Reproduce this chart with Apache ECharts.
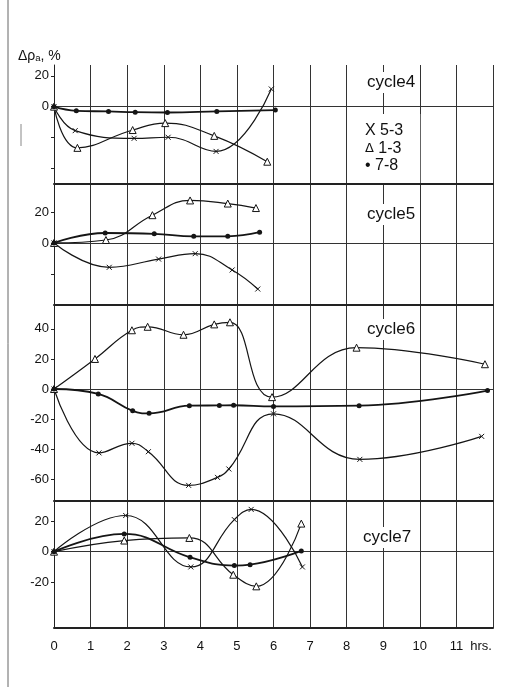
<!DOCTYPE html>
<html><head><meta charset="utf-8">
<script src="https://cdn.jsdelivr.net/npm/echarts@6/dist/echarts.min.js"></script>
<style>html,body{margin:0;padding:0;background:#fff}#c{width:509px;height:687px}</style>
</head><body><div id="c"></div>
<script>
// ---- data (hours, Δρa %) ----
const seriesNames = ['5-3', '1-3', '7-8'];
const panelNames = ['cycle4', 'cycle5', 'cycle6', 'cycle7'];
const xTickLabels = ['0','1','2','3','4','5','6','7','8','9','10','11','hrs.'];

const c4_53 = [[0,0],[0.58,-15.6],[2.19,-20.6],[3.12,-19.9],[4.43,-29.1],[5.94,11.5]];
const c4_13 = [[0,0],[0.64,-26.8],[2.15,-15.2],[3.04,-10.7],[4.38,-19.0],[5.83,-35.8]];
const c4_78 = [[0,0],[0.61,-2.7],[1.49,-3.1],[2.22,-3.6],[3.10,-3.8],[4.45,-3.1],[6.05,-2.2]];

const c5_53 = [[0,0],[1.51,-15.7],[2.86,-10.4],[3.86,-6.9],[4.87,-17.4],[5.57,-29.7]];
const c5_13 = [[0,0],[1.42,1.9],[2.69,17.9],[3.72,27.4],[4.75,25.4],[5.52,22.5]];
const c5_78 = [[0,0],[1.40,6.4],[2.74,5.9],[3.82,4.3],[4.75,4.3],[5.62,6.9]];

const c6_53 = [[0,0],[1.23,-42.5],[2.13,-36.1],[2.58,-41.7],[3.68,-64.1],[4.47,-58.8],[4.78,-53.2],[6.00,-16.5],[8.36,-46.8],[11.69,-31.5]];
const c6_13 = [[0,0],[1.12,20.0],[2.13,39.1],[2.56,41.4],[3.54,36.1],[4.38,43.0],[4.81,44.4],[5.96,-5.4],[8.27,27.5],[11.78,16.5]];
const c6_78 = [[0,0],[1.21,-3.3],[2.15,-14.5],[2.60,-16.2],[3.70,-11.1],[4.52,-10.9],[4.91,-10.8],[6.00,-11.6],[8.34,-11.1],[11.85,-1.0]];

const c7_53 = [[0,0],[1.96,23.7],[3.74,-10.0],[4.93,21.0],[5.39,27.7],[6.79,-10.0]];
const c7_13 = [[0,0],[1.92,7.3],[3.70,9.0],[4.90,-15.1],[5.53,-22.7],[6.76,18.4]];
const c7_78 = [[0,0],[1.92,11.6],[3.72,-3.7],[4.93,-9.1],[5.36,-8.5],[6.76,0.5]];

const panelData = [
  [c4_53, c4_13, c4_78],
  [c5_53, c5_13, c5_78],
  [c6_53, c6_13, c6_78],
  [c7_53, c7_13, c7_78]
];
const yLabelValues = [[20,0],[20,0],[40,20,0,-20,-40,-60],[20,0,-20]];
const yTickValues  = [[20,0,-20,-40],[20,0,-20],[40,20,0,-20,-40,-60],[20,0,-20]];
const yRanges = [[-50.3,27.1],[-40,38],[-74.5,55.9],[-50,33.2]];

// ---- layout ----
const gridBoxes = [{top:65,height:119},{top:184,height:121},{top:305,height:196},{top:501,height:127}];
const titleBoxes = [{left:364,top:72},{left:364,top:204},{left:364,top:319},{left:360,top:527}];

const INK = '#151515';
const symbols = {'5-3':'path://M0,0L10,10M10,0L0,10', '1-3':'triangle', '7-8':'circle'};
const symbolSizes = {'5-3':5, '1-3':7, '7-8':5};
const itemStyles = {
  '5-3': {color: INK, borderColor: INK, borderWidth: 1},
  '1-3': {color: '#fff', borderColor: INK, borderWidth: 1},
  '7-8': {color: INK}
};
const lineWidths = {'5-3':1.2, '1-3':1.2, '7-8':1.8};

const grids = gridBoxes.map(g => ({left:54, right:16, top:g.top, height:g.height}));
const xAxes = gridBoxes.map((g,i) => ({
  type:'value', gridIndex:i, min:0, max:12, interval:1,
  axisLine:{show:true, onZero:false, lineStyle:{color:'#222', width:2}},
  axisTick:{show:false},
  axisLabel:{show: i===3, margin:12, fontSize:13, color:'#111', fontFamily:'Liberation Sans',
    formatter: v => v===12 ? '{h|' + xTickLabels[12] + '}' : xTickLabels[v],
    rich:{h:{fontSize:13, color:'#111', fontFamily:'Liberation Sans', padding:[0,24,0,0]}}},
  splitLine:{show:true, lineStyle:{color:'#333', width:1}}
}));
const yAxes = gridBoxes.map((g,i) => ({
  type:'value', gridIndex:i, min:yRanges[i][0], max:yRanges[i][1],
  axisLine:{show:true, lineStyle:{color:'#222', width:1}},
  axisTick:{show:true, length:3, customValues:yTickValues[i], lineStyle:{color:'#222'}},
  axisLabel:{show:true, customValues:yLabelValues[i], fontSize:13, color:'#111', margin:5, fontFamily:'Liberation Sans'},
  splitLine:{show:false}
}));

const series = [];
panelData.forEach((arr, gi) => {
  arr.forEach((d, si) => {
    const name = seriesNames[si];
    const s = {
      type:'line', name, xAxisIndex:gi, yAxisIndex:gi, data:d,
      smooth:0.45, showAllSymbol:true,
      symbol:symbols[name], symbolSize:symbolSizes[name],
      itemStyle:itemStyles[name],
      lineStyle:{color:INK, width:lineWidths[name]},
      emphasis:{disabled:true}, silent:true, z: 3
    };
    if (si === 0) {
      s.markLine = {silent:true, symbol:['none','none'], label:{show:false},
        lineStyle:{color:'#333', width:1, type:'solid'}, data:[{yAxis:0}], z:1};
    }
    series.push(s);
  });
});

const titles = [{
  text:'Δρₐ, %', left:18, top:49,
  textStyle:{fontSize:14, fontWeight:'normal', color:'#111', fontFamily:'Liberation Sans'}, padding:0
}].concat(panelNames.map((t,i) => ({
  text:t, left:titleBoxes[i].left, top:titleBoxes[i].top,
  backgroundColor:'#fff', padding:[2,3],
  textStyle:{fontSize:17, fontWeight:'normal', color:'#111', fontFamily:'Liberation Sans'}
})));

const legendPrefix = {'5-3':'X', '1-3':'{d|Δ}', '7-8':'•'};
const option = {
  animation:false,
  backgroundColor:'#fff',
  title:titles,
  legend:{
    orient:'vertical', left:349, top:114, backgroundColor:'#fff',
    padding:[9,17,9,11], itemGap:1.5, itemWidth:0, itemHeight:0, selectedMode:false,
    data: seriesNames.map(n => ({name:n, icon:'none'})),
    formatter: n => legendPrefix[n] + ' ' + n,
    textStyle:{fontSize:16, color:'#111', fontFamily:'Liberation Sans',
      rich:{d:{fontSize:13, color:'#111', fontFamily:'DejaVu Sans'}}}
  },
  graphic:[
    {type:'line', shape:{x1:8, y1:0, x2:8, y2:687}, style:{stroke:'#666', lineWidth:1}, silent:true},
    {type:'line', shape:{x1:21, y1:124, x2:21, y2:146}, style:{stroke:'#888', lineWidth:1}, silent:true}
  ],
  grid:grids, xAxis:xAxes, yAxis:yAxes, series
};
const chart = echarts.init(document.getElementById('c'), null, {renderer:'canvas'});
chart.setOption(option);
</script></body></html>
